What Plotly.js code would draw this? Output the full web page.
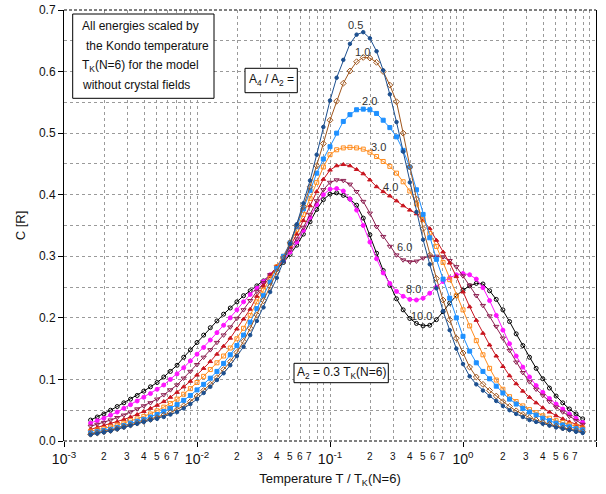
<!DOCTYPE html>
<html>
<head>
<meta charset="utf-8">
<script src="https://cdn.plot.ly/plotly-3.0.1.min.js"></script>
<style>html,body{margin:0;padding:0;background:#fff;}#chart{width:606px;height:494px;}</style>
</head>
<body>
<div id="chart"></div>
<script>
// log10 of temperature T / TK(N=6) at each marker
const logT = [-2.80,-2.75,-2.70,-2.65,-2.60,-2.55,-2.50,-2.45,-2.40,-2.35,
  -2.30,-2.25,-2.20,-2.15,-2.10,-2.05,-2.00,-1.95,-1.90,-1.85,
  -1.80,-1.75,-1.70,-1.65,-1.60,-1.55,-1.50,-1.45,-1.40,-1.35,
  -1.30,-1.25,-1.20,-1.15,-1.10,-1.05,-1.00,-0.95,-0.90,-0.85,
  -0.80,-0.75,-0.70,-0.65,-0.60,-0.55,-0.50,-0.45,-0.40,-0.35,
  -0.30,-0.25,-0.20,-0.15,-0.10,-0.05,0.00,0.05,0.10,0.15,
  0.20,0.25,0.30,0.35,0.40,0.45,0.50,0.55,0.60,0.65,
  0.70,0.75,0.80,0.85,0.90];

// C [R] for each A4/A2 ratio
const c05 = [.010,.012,.014,.016,.019,.022,.025,.028,.031,.034,
  .036,.039,.043,.047,.053,.060,.068,.078,.088,.099,
  .110,.123,.138,.153,.172,.195,.217,.242,.265,.292,
  .320,.352,.386,.423,.465,.510,.553,.590,.619,.645,
  .660,.664,.654,.633,.602,.563,.518,.470,.420,.372,
  .327,.287,.248,.211,.180,.150,.125,.105,.092,.082,
  .073,.065,.057,.050,.044,.039,.034,.031,.028,.025,
  .022,.020,.018,.015,.013];
const c10 = [.011,.013,.015,.017,.020,.023,.026,.029,.032,.035,
  .038,.042,.046,.051,.057,.064,.073,.082,.092,.103,
  .116,.129,.144,.162,.183,.205,.228,.251,.275,.297,
  .322,.350,.381,.413,.447,.483,.521,.552,.581,.601,
  .616,.623,.622,.615,.600,.578,.551,.500,.445,.393,
  .345,.302,.264,.229,.197,.167,.143,.120,.104,.092,
  .082,.073,.064,.056,.049,.043,.038,.034,.030,.027,
  .024,.021,.019,.017,.015];
const c20 = [.013,.015,.017,.019,.022,.025,.029,.032,.035,.039,
  .043,.048,.053,.059,.066,.074,.083,.092,.102,.113,
  .126,.140,.155,.172,.193,.215,.236,.258,.280,.300,
  .322,.348,.377,.407,.435,.458,.478,.500,.519,.530,
  .538,.539,.538,.532,.521,.509,.494,.472,.445,.408,
  .368,.330,.295,.263,.232,.200,.170,.146,.127,.113,
  .101,.089,.078,.068,.060,.053,.047,.042,.037,.033,
  .029,.026,.023,.020,.018];
const c30 = [.016,.018,.020,.023,.026,.029,.033,.036,.040,.044,
  .049,.055,.061,.068,.076,.085,.095,.105,.116,.127,
  .138,.151,.166,.183,.204,.226,.245,.264,.283,.300,
  .320,.343,.368,.394,.420,.445,.465,.473,.476,.477,
  .476,.474,.469,.462,.454,.446,.435,.421,.406,.385,
  .360,.337,.316,.290,.262,.236,.213,.187,.163,.140,
  .118,.099,.084,.072,.064,.057,.051,.046,.041,.037,
  .033,.030,.027,.024,.021];
const c40 = [.019,.022,.025,.028,.031,.035,.039,.043,.048,.053,
  .058,.064,.071,.079,.088,.097,.107,.118,.129,.141,
  .154,.167,.182,.198,.214,.235,.252,.268,.284,.299,
  .316,.336,.358,.382,.405,.425,.440,.447,.449,.447,
  .441,.434,.424,.413,.405,.398,.390,.382,.375,.369,
  .358,.345,.326,.307,.289,.267,.242,.218,.196,.175,
  .156,.138,.121,.106,.093,.081,.071,.062,.054,.047,
  .041,.036,.031,.027,.024];
const c60 = [.024,.027,.030,.034,.038,.042,.047,.052,.057,.062,
  .068,.075,.083,.091,.102,.113,.124,.136,.148,.160,
  .172,.185,.199,.213,.228,.243,.257,.270,.283,.296,
  .311,.328,.347,.368,.390,.408,.420,.424,.423,.417,
  .405,.389,.370,.348,.332,.316,.302,.294,.291,.292,
  .297,.300,.300,.299,.293,.283,.268,.253,.236,.220,
  .203,.186,.167,.147,.128,.111,.096,.084,.074,.064,
  .055,.047,.040,.033,.027];
const c80 = [.029,.033,.037,.042,.047,.053,.059,.065,.071,.077,
  .084,.091,.100,.109,.119,.130,.141,.152,.164,.176,
  .188,.200,.213,.226,.238,.248,.259,.270,.281,.293,
  .307,.323,.342,.363,.384,.400,.409,.410,.406,.393,
  .375,.350,.323,.296,.273,.256,.243,.235,.230,.229,
  .232,.240,.250,.259,.265,.270,.272,.270,.263,.249,
  .228,.204,.180,.158,.138,.120,.104,.090,.079,.069,
  .060,.052,.044,.037,.030];
const c100 = [.034,.039,.044,.050,.056,.062,.068,.074,.081,.088,
  .095,.104,.113,.123,.136,.148,.160,.172,.184,.195,
  .206,.216,.226,.236,.244,.252,.260,.269,.279,.290,
  .303,.318,.336,.356,.376,.392,.401,.403,.399,.393,
  .383,.362,.335,.305,.277,.253,.231,.213,.199,.191,
  .187,.188,.197,.210,.224,.236,.245,.252,.256,.255,
  .244,.230,.213,.194,.174,.155,.136,.118,.101,.086,
  .073,.062,.052,.044,.036];

const ratioLabels = ['0.5','1.0','2.0','3.0','4.0','6.0','8.0','10.0'];
const majorTicks = [0.001, 0.01, 0.1, 1, 10];
const majorText = ['10<sup>-3</sup>','10<sup>-2</sup>','10<sup>-1</sup>','10<sup>0</sup>','10<sup>1</sup>'];
const minorMult = [2,3,4,5,6,7,8,9];
const minorLabelMult = ['2','3','4','5','6','7'];

const T = logT.map(v => Math.pow(10, v));

const seriesDefs = [
  {y: c100, color: '#000000', symbol: 'circle-open', size: 4},
  {y: c80,  color: '#ff14ff', symbol: 'circle', size: 4},
  {y: c60,  color: '#8c1e50', symbol: 'triangle-down-open', size: 4.5},
  {y: c40,  color: '#c8141e', symbol: 'triangle-up', size: 4},
  {y: c30,  color: '#ff8c1e', symbol: 'square-open', size: 4},
  {y: c20,  color: '#1e90ff', symbol: 'square', size: 4},
  {y: c10,  color: '#a0561c', symbol: 'diamond-open', size: 4.5},
  {y: c05,  color: '#1c4f8f', symbol: 'circle', size: 3.5}
];

const traces = seriesDefs.map(s => ({
  x: T, y: s.y, type: 'scatter', mode: 'lines+markers',
  line: {color: s.color, width: 1},
  marker: {symbol: s.symbol, size: s.size, color: s.color, line: {color: s.color, width: 1}},
  showlegend: false, hoverinfo: 'skip'
}));

const minorVals = [];
const annotations = [];
const tickFont = {family: 'Liberation Sans, Arial, sans-serif', size: 10, color: '#111'};
for (let d = -3; d < 1; d++) {
  minorMult.forEach(m => minorVals.push(m * Math.pow(10, d)));
  minorLabelMult.forEach(m => annotations.push({
    text: m, xref: 'x', yref: 'paper', x: Math.log10(Number(m) * Math.pow(10, d)), y: -0.037,
    xanchor: 'center', yanchor: 'middle', showarrow: false, font: tickFont
  }));
}

// plot-area geometry helpers (paper fractions)
const PX0 = 64, PW = 532, PY0 = 441, PH = 431;
const px = v => (v - PX0) / PW;
const py = v => (PY0 - v) / PH;

const labelPos = [[355,25],[362,52],[369,101],[378,147],[390,187],[404,247],[413,289],[421,316]];
ratioLabels.forEach((t, i) => annotations.push({
  text: t, xref: 'paper', yref: 'paper', x: px(labelPos[i][0]), y: py(labelPos[i][1]),
  xanchor: 'center', yanchor: 'middle', showarrow: false,
  font: {family: 'Liberation Sans, Arial, sans-serif', size: 11, color: '#333'}
}));

const boxFont = {family: 'Liberation Sans, Arial, sans-serif', size: 12, color: '#111'};
const boxLines = [
  {t: 'All energies scaled by', x: 80, y: 26},
  {t: 'the Kondo temperature', x: 83.5, y: 45.7},
  {t: 'T<sub>K</sub>(N=6) for the model', x: 80, y: 65.5},
  {t: 'without crystal fields', x: 80, y: 84.7}
];
boxLines.forEach(l => annotations.push({
  text: l.t, xref: 'paper', yref: 'paper', x: px(l.x), y: py(l.y),
  xanchor: 'left', yanchor: 'middle', showarrow: false, font: boxFont
}));
annotations.push({text: 'A<sub>4</sub> / A<sub>2</sub> =', xref: 'paper', yref: 'paper',
  x: px(271), y: py(80), xanchor: 'center', yanchor: 'middle', showarrow: false, font: boxFont});
annotations.push({text: 'A<sub>2</sub> = 0.3 T<sub>K</sub>(N=6)', xref: 'paper', yref: 'paper',
  x: px(341), y: py(372.5), xanchor: 'center', yanchor: 'middle', showarrow: false, font: boxFont});

const shapes = [
  {type: 'rect', xref: 'paper', yref: 'paper', x0: px(72.7), x1: px(214), y0: py(98.3), y1: py(14),
   line: {color: '#000', width: 1}, fillcolor: '#fff', layer: 'above'},
  {type: 'rect', xref: 'paper', yref: 'paper', x0: px(245), x1: px(297.3), y0: py(92.7), y1: py(68.3),
   line: {color: '#000', width: 1}, fillcolor: '#fff', layer: 'above'},
  {type: 'rect', xref: 'paper', yref: 'paper', x0: px(294), x1: px(388.3), y0: py(382.7), y1: py(363.3),
   line: {color: '#000', width: 1}, fillcolor: '#fff', layer: 'above'},
  {type: 'line', xref: 'paper', yref: 'paper', x0: 0, x1: 1, y0: 1, y1: 1,
   line: {color: '#000', width: 1, dash: '3px,2px'}, layer: 'above'},
  {type: 'line', xref: 'paper', yref: 'paper', x0: 0, x1: 1, y0: 0, y1: 0,
   line: {color: '#000', width: 1, dash: '3px,2px'}, layer: 'above'}
];

const gridColor = '#9a9a9a';
const layout = {
  width: 606, height: 494,
  margin: {l: 64, r: 10, t: 10, b: 53},
  paper_bgcolor: '#fff', plot_bgcolor: '#fff',
  font: {family: 'Liberation Sans, Arial, sans-serif', color: '#111'},
  xaxis: {
    type: 'log', range: [-3, 1],
    tickvals: majorTicks, ticktext: majorText,
    tickfont: {size: 14, color: '#111'},
    ticks: 'outside', ticklen: 5, tickcolor: '#000',
    showgrid: true, gridcolor: gridColor, griddash: 'dot', gridwidth: 1,
    minor: {tickvals: minorVals, showgrid: true, gridcolor: gridColor, griddash: 'dot', gridwidth: 1, ticks: ''},
    showline: false, zeroline: false,
    title: {text: 'Temperature T / T<sub>K</sub>(N=6)', font: {size: 13, color: '#111'}, standoff: 8}
  },
  yaxis: {
    range: [0, 0.7], dtick: 0.1, tickformat: '.1f',
    tickfont: {size: 12, color: '#111'},
    ticks: 'outside', ticklen: 5, tickcolor: '#000',
    showgrid: true, gridcolor: gridColor, griddash: 'dot', gridwidth: 1,
    minor: {dtick: 0.05, showgrid: true, gridcolor: gridColor, griddash: 'dot', gridwidth: 1, ticks: ''},
    showline: true, mirror: true, linecolor: '#000', linewidth: 1, zeroline: false,
    title: {text: 'C [R]', font: {size: 13, color: '#111'}, standoff: 10}
  },
  annotations: annotations,
  shapes: shapes
};

Plotly.newPlot('chart', traces, layout, {displayModeBar: false, staticPlot: true});
</script>
</body>
</html>
